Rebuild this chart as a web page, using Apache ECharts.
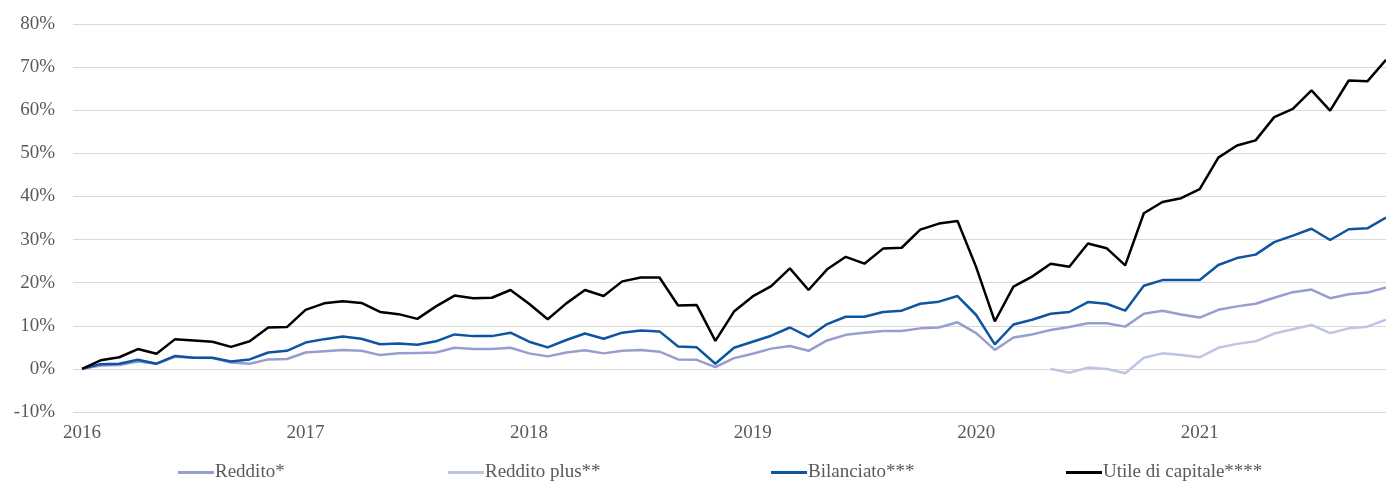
<!DOCTYPE html>
<html>
<head>
<meta charset="utf-8">
<title>Rendimenti cumulati</title>
<script src="https://cdn.jsdelivr.net/npm/echarts@6/dist/echarts.min.js"></script>
<style>
  html, body { margin: 0; padding: 0; background: #fff; }
  #chart { width: 1386px; height: 486px; }
</style>
</head>
<body>
<div id="chart"></div>
<script>
// mesi: gen 2016 -> nov 2021
var years = [2016, 2017, 2018, 2019, 2020, 2021];
var months = [];
years.forEach(function (y) {
  for (var m = 1; m <= 12; m++) {
    if (y === 2021 && m > 11) break;
    months.push(y + '-' + (m < 10 ? '0' + m : m));
  }
});

var yTicks = { min: -10, max: 80, step: 10 };

// valori in %
var reddito = [
  0, 0.8, 0.9, 1.7, 1.2, 2.8, 2.6, 2.5, 1.5, 1.2, 2.2, 2.3,
  3.8, 4.1, 4.4, 4.2, 3.2, 3.6, 3.7, 3.8, 4.9, 4.6, 4.6, 4.9,
  3.6, 2.9, 3.8, 4.3, 3.6, 4.2, 4.4, 4.0, 2.2, 2.1, 0.4, 2.5,
  3.5, 4.7, 5.3, 4.2, 6.6, 7.9, 8.4, 8.8, 8.8, 9.4, 9.6, 10.8,
  8.3, 4.4, 7.3, 8.0, 9.0, 9.7, 10.6, 10.6, 9.8, 12.8, 13.5, 12.6,
  11.9, 13.7, 14.5, 15.1, 16.5, 17.8, 18.4, 16.4, 17.3, 17.7, 18.9
];
var redditoPlus = [
  null, null, null, null, null, null, null, null, null, null, null, null,
  null, null, null, null, null, null, null, null, null, null, null, null,
  null, null, null, null, null, null, null, null, null, null, null, null,
  null, null, null, null, null, null, null, null, null, null, null, null,
  null, null, null, null, 0, -0.9, 0.3, 0, -1.0, 2.6, 3.6, 3.2,
  2.7, 4.9, 5.8, 6.4, 8.2, 9.2, 10.2, 8.3, 9.4, 9.8, 11.4
];
var bilanciato = [
  0, 1.1, 1.2, 2.1, 1.2, 3.0, 2.6, 2.6, 1.7, 2.2, 3.8, 4.2,
  6.1, 6.9, 7.5, 7.0, 5.7, 5.9, 5.6, 6.4, 8.0, 7.6, 7.6, 8.4,
  6.3, 5.0, 6.7, 8.2, 7.0, 8.4, 8.9, 8.7, 5.2, 5.0, 1.2, 4.9,
  6.3, 7.7, 9.6, 7.4, 10.4, 12.1, 12.1, 13.2, 13.5, 15.1, 15.6, 16.9,
  12.5, 5.7, 10.3, 11.4, 12.8, 13.2, 15.5, 15.1, 13.5, 19.3, 20.6, 20.6,
  20.6, 24.1, 25.7, 26.5, 29.4, 30.9, 32.5, 29.9, 32.4, 32.6, 35.1
];
var utile = [
  0, 2.0, 2.7, 4.6, 3.5, 6.9, 6.6, 6.3, 5.1, 6.4, 9.6, 9.7,
  13.7, 15.2, 15.7, 15.3, 13.2, 12.7, 11.6, 14.5, 17.0, 16.4, 16.5, 18.3,
  15.1, 11.5, 15.2, 18.3, 16.9, 20.3, 21.2, 21.2, 14.7, 14.8, 6.5, 13.3,
  16.8, 19.2, 23.3, 18.3, 23.1, 26.0, 24.4, 27.9, 28.1, 32.3, 33.7, 34.3,
  23.6, 11.0, 19.1, 21.4, 24.4, 23.7, 29.1, 28.0, 24.0, 36.1, 38.7, 39.6,
  41.7, 49.0, 51.8, 53.0, 58.4, 60.3, 64.6, 59.9, 66.9, 66.7, 71.7
];

var seriesNames = ['Reddito*', 'Reddito plus**', 'Bilanciato***', 'Utile di capitale****'];
var seriesColors = ['#989dd0', '#bdc4e5', '#0d55a0', '#000000'];
var seriesData = [reddito, redditoPlus, bilanciato, utile];
var legendLeft = [173, 443, 766, 1061];

var font = '"Liberation Serif", "DejaVu Serif", serif';
var textColor = '#595959';

var chart = echarts.init(document.getElementById('chart'));

chart.setOption({
  animation: false,
  grid: { left: 82, right: 0, top: 24, bottom: 74, containLabel: false },
  // una legenda per voce, cosi le posizioni seguono l'originale
  legend: seriesNames.map(function (name, i) {
    return {
      data: [name],
      left: legendLeft[i],
      top: 458,
      itemWidth: 36,
      itemHeight: 3,
      icon: 'rect',
      textStyle: { fontFamily: font, fontSize: 19, color: textColor, padding: [0, 0, 0, -4] }
    };
  }),
  xAxis: {
    type: 'category',
    data: months,
    boundaryGap: false,
    axisLine: { show: false },
    axisTick: { show: false },
    axisLabel: {
      interval: function (i) { return i % 12 === 0; },
      formatter: function (v) { return v.slice(0, 4); },
      margin: 12,
      fontFamily: font,
      fontSize: 19,
      color: textColor
    },
    splitLine: { show: false }
  },
  yAxis: {
    type: 'value',
    min: yTicks.min,
    max: yTicks.max,
    interval: yTicks.step,
    axisLine: { show: false },
    axisTick: { show: true, length: 9, lineStyle: { color: '#d9d9d9' } },
    axisLabel: {
      formatter: '{value}%',
      margin: 27,
      fontFamily: font,
      fontSize: 19,
      color: textColor
    },
    splitLine: { lineStyle: { color: '#d9d9d9', width: 1 } }
  },
  series: seriesNames.map(function (name, i) {
    return {
      name: name,
      type: 'line',
      data: seriesData[i],
      symbol: 'none',
      connectNulls: false,
      itemStyle: { color: seriesColors[i] },
      lineStyle: { color: seriesColors[i], width: 2.5 }
    };
  })
});
</script>
</body>
</html>
